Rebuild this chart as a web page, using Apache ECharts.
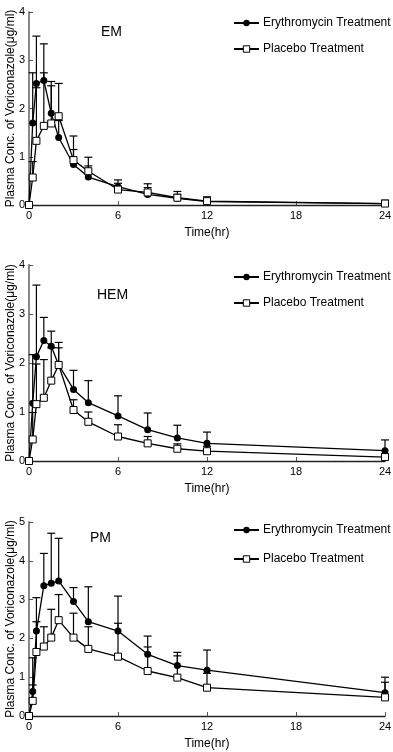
<!DOCTYPE html>
<html>
<head>
<meta charset="utf-8">
<script src="https://cdn.jsdelivr.net/npm/echarts@6/dist/echarts.min.js"></script>
<style>
html,body{margin:0;padding:0;background:#fff;}
#main{width:393px;height:752px;}
</style>
</head>
<body>
<div id="main"></div>
<script>
// sampling times (hr)
const hours = [0, 0.25, 0.5, 1, 1.5, 2, 3, 4, 6, 8, 10, 12, 24];
const xTicks = [0, 6, 12, 18, 24];

// EM
const emEry   = [0, 1.70, 2.52, 2.58, 1.90, 1.40, 0.84, 0.58, 0.38, 0.22, 0.14, 0.07, 0.03];
const emEryUp = [0, 2.74, 3.50, 3.34, 2.56, 1.75, 1.15, 0.81, 0.52, 0.44, 0.28, 0.17, 0.10];
const emPla   = [0, 0.57, 1.33, 1.64, 1.69, 1.84, 0.93, 0.70, 0.32, 0.26, 0.15, 0.08, 0.03];
const emPlaUp = [0, 0.90, 2.43, 2.74, 2.47, 2.52, 1.43, 0.99, 0.45, 0.36, 0.22, 0.12, 0.07];

// HEM
const hemEry   = [0, 1.18, 2.13, 2.46, 2.34, 1.96, 1.46, 1.19, 0.92, 0.64, 0.47, 0.36, 0.21];
const hemEryUp = [0, 2.17, 3.59, 2.93, 2.65, 2.42, 1.85, 1.64, 1.33, 0.98, 0.73, 0.59, 0.43];
const hemPla   = [0, 0.44, 1.16, 1.29, 1.64, 1.96, 1.04, 0.80, 0.50, 0.36, 0.25, 0.20, 0.08];
const hemPlaUp = [0, 0.99, 1.98, 2.07, 2.31, 2.31, 1.25, 1.00, 0.74, 0.50, 0.35, 0.30, 0.15];

// PM
const pmEry   = [0, 0.63, 2.19, 3.36, 3.42, 3.48, 2.95, 2.43, 2.19, 1.59, 1.30, 1.18, 0.60];
const pmEryUp = [0, 1.50, 3.05, 4.19, 4.71, 4.58, 3.31, 3.33, 3.09, 2.06, 1.64, 1.70, 1.00];
const pmPla   = [0, 0.39, 1.65, 1.79, 2.02, 2.47, 2.02, 1.73, 1.53, 1.16, 0.99, 0.73, 0.48];
const pmPlaUp = [0, 0.80, 2.43, 2.30, 2.75, 3.13, 2.65, 2.30, 2.39, 1.78, 1.55, 1.10, 0.87];

const panelNames = ['EM', 'HEM', 'PM'];
const yMax = [4, 4, 5];
const seriesNames = ['Erythromycin Treatment', 'Placebo Treatment'];

const font = 'Liberation Sans, Arial, sans-serif';
const panels = [
    {ery: emEry, eryUp: emEryUp, pla: emPla, plaUp: emPlaUp},
    {ery: hemEry, eryUp: hemEryUp, pla: hemPla, plaUp: hemPlaUp},
    {ery: pmEry, eryUp: pmEryUp, pla: pmPla, plaUp: pmPlaUp}
];

// layout per panel
const grids = [
    {left: 29, top: 12, width: 356, height: 193, outerBoundsMode: 'none'},
    {left: 29, top: 265, width: 356, height: 196, outerBoundsMode: 'none'},
    {left: 29, top: 522, width: 356, height: 194, outerBoundsMode: 'none'}
];
const titlePos = [{left: 101, top: 25}, {left: 97, top: 288}, {left: 90, top: 531}];
const legendPos = [{top: 16, gap: 12}, {top: 270, gap: 12}, {top: 523, gap: 15}];

function errorBar(params, api) {
    const x = api.value(0), y = api.value(1), up = api.value(2);
    if (!(up > y)) return null;
    const p0 = api.coord([x, y]);
    const p1 = api.coord([x, up]);
    const st = {stroke: '#000', lineWidth: 1.2};
    return {
        type: 'group',
        children: [
            {type: 'line', shape: {x1: p0[0], y1: p0[1], x2: p1[0], y2: p1[1]}, style: st},
            {type: 'line', shape: {x1: p1[0] - 4, y1: p1[1], x2: p1[0] + 4, y2: p1[1]}, style: st}
        ]
    };
}

const option = {
    animation: false,
    backgroundColor: '#fff',
    title: panelNames.map((n, i) => ({
        text: n,
        left: titlePos[i].left,
        top: titlePos[i].top,
        padding: 0,
        textStyle: {fontFamily: font, fontSize: 14, fontWeight: 'normal', color: '#000'}
    })),
    legend: legendPos.map(l => ({
        data: seriesNames,
        orient: 'vertical',
        left: 233,
        top: l.top,
        padding: 0,
        itemGap: l.gap,
        itemWidth: 25,
        itemHeight: 8,
        itemStyle: {borderWidth: 1},
        selectedMode: false,
        textStyle: {fontFamily: font, fontSize: 12, color: '#000', lineHeight: 14, padding: [0, 0, 0, -1]}
    })),
    grid: grids,
    xAxis: grids.map((g, i) => ({
        type: 'value',
        gridIndex: i,
        min: 0,
        max: 24,
        interval: 6,
        name: 'Time(hr)',
        nameLocation: 'middle',
        nameGap: 22,
        nameMoveOverlap: false,
        nameTextStyle: {fontFamily: font, fontSize: 12, color: '#000'},
        axisLine: {lineStyle: {color: '#222', width: 1.3}},
        axisTick: {inside: true, length: 4, lineStyle: {color: '#555'}},
        axisLabel: {fontFamily: font, fontSize: 11, color: '#000', margin: 5,
            formatter: v => xTicks.includes(v) ? String(v) : ''},
        splitLine: {show: false}
    })),
    yAxis: grids.map((g, i) => ({
        type: 'value',
        gridIndex: i,
        min: 0,
        max: yMax[i],
        interval: 1,
        name: 'Plasma Conc. of Voriconazole(μg/ml)',
        nameLocation: 'middle',
        nameGap: 12,
        nameMoveOverlap: false,
        nameTextStyle: {fontFamily: font, fontSize: 12, color: '#000'},
        axisLine: {show: true, lineStyle: {color: '#888', width: 2}},
        axisTick: {show: true, inside: true, length: 4, lineStyle: {color: '#555'}},
        axisLabel: {fontFamily: font, fontSize: 11, color: '#000', margin: 4},
        splitLine: {show: false}
    })),
    series: []
};

panels.forEach((p, i) => {
    option.series.push(
        {
            type: 'custom',
            xAxisIndex: i, yAxisIndex: i,
            renderItem: errorBar,
            encode: {x: 0, y: [1, 2]},
            data: hours.map((t, k) => [t, p.pla[k], p.plaUp[k]]),
            z: 1
        },
        {
            type: 'custom',
            xAxisIndex: i, yAxisIndex: i,
            renderItem: errorBar,
            encode: {x: 0, y: [1, 2]},
            data: hours.map((t, k) => [t, p.ery[k], p.eryUp[k]]),
            z: 1
        },
        {
            name: seriesNames[0],
            type: 'line',
            xAxisIndex: i, yAxisIndex: i,
            data: hours.map((t, k) => [t, p.ery[k]]),
            symbol: 'circle',
            symbolSize: 7,
            showAllSymbol: true,
            lineStyle: {color: '#000', width: 1.3},
            itemStyle: {color: '#000'},
            z: 3
        },
        {
            name: seriesNames[1],
            type: 'line',
            xAxisIndex: i, yAxisIndex: i,
            data: hours.map((t, k) => [t, p.pla[k]]),
            symbol: 'rect',
            symbolSize: 7,
            showAllSymbol: true,
            lineStyle: {color: '#000', width: 1.3},
            itemStyle: {color: '#fff', borderColor: '#000', borderWidth: 1},
            z: 4
        }
    );
});

const chart = echarts.init(document.getElementById('main'));
chart.setOption(option);
</script>
</body>
</html>
